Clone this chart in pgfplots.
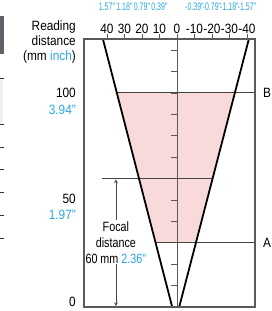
\documentclass[border=0pt]{standalone}
\usepackage{fontspec}
\setmainfont{Liberation Sans}[FakeStretch=0.88]
\newfontfamily\narrowfont{Liberation Sans}[FakeStretch=0.64]
\newfontfamily\condfont{Liberation Sans}[FakeStretch=0.80]
\usepackage{pgfplots}
\pgfplotsset{compat=1.18}
\definecolor{inchblue}{HTML}{29A8E0}
\definecolor{beampink}{HTML}{F9DADA}
\definecolor{framegray}{HTML}{5A5A5A}
\definecolor{lineg}{HTML}{444444}
\definecolor{sidegray}{HTML}{5F6368}
\newcommand{\pxfont}{\fontsize{13.5}{16}\selectfont}
\newcommand{\inch}[1]{{\narrowfont\fontsize{11}{18}\selectfont\color{inchblue}#1}}
\begin{document}
\begin{tikzpicture}[x=1bp,y=1bp]
\useasboundingbox (0,0) rectangle (272,311);
% clipped pieces of the neighbouring figure at the left edge
\fill[sidegray] (0,257) rectangle (4,295);
\fill[black!6] (0,186) rectangle (3,232);
\foreach \yy in {232,186,163,141,118,95,72} {\draw[black!80, line width=1bp] (0,\yy) -- (4,\yy);}
% axis title and y labels
\node[anchor=base east, inner sep=0pt, font=\pxfont] at (76,281) {Reading};
\node[anchor=base east, inner sep=0pt, font=\pxfont] at (76,266) {distance};
\node[anchor=base east, inner sep=0pt, font=\pxfont] at (76,251) {(mm \textcolor{inchblue}{inch})};
\node[anchor=base east, inner sep=0pt, font=\pxfont] at (76,214) {100};
\node[anchor=base east, inner sep=0pt, font=\pxfont, text=inchblue] at (76,197) {3.94"};
\node[anchor=base east, inner sep=0pt, font=\pxfont] at (76,108) {50};
\node[anchor=base east, inner sep=0pt, font=\pxfont, text=inchblue] at (76,92) {1.97"};
\node[anchor=base east, inner sep=0pt, font=\pxfont] at (76,5) {0};
\node[anchor=base west, inner sep=0pt, font=\pxfont] at (263,214) {B};
\node[anchor=base west, inner sep=0pt, font=\pxfont] at (263,64) {A};
\begin{axis}[
  at={(84bp,4bp)}, anchor=south west,
  scale only axis, width=171bp, height=268bp,
  xmin=-44.6, xmax=53.1, x dir=reverse,
  ymin=0, ymax=125.2,
  axis on top,
  axis line style={framegray, line width=1.2bp},
  xtick={-40,-30,...,40},
  xtick pos=upper, xticklabel pos=upper,
  tick align=outside, major tick length=5bp,
  tick style={framegray, line width=0.8bp},
  xticklabels={\inch{-1.57"}\\[5bp]-40,
               \inch{-1.18"}\\[5bp]-30,
               \inch{-0.79"}\\[5bp]-20,
               \inch{-0.39"}\\[5bp]-10,
               \inch{\strut}\\[5bp]0,
               \inch{0.39"}\\[5bp]10,
               \inch{0.79"}\\[5bp]20,
               \inch{1.18"}\\[5bp]30,
               \inch{1.57"}\\[5bp]40},
  xticklabel style={align=center, font=\fontsize{13.5}{18}\selectfont, inner sep=0pt, anchor=south, yshift=0bp},
  ytick=\empty,
]
% depth of field region
\addplot[fill=beampink, draw=none] coordinates {(12.2,30) (34.4,100) (-33.1,100) (-10.85,30)} -- cycle;
% centre line with ticks
\addplot[framegray, line width=0.8bp] coordinates {(0,0) (0,125.2)};
\pgfplotsinvokeforeach{10,20,...,120}{\draw[framegray, line width=0.8bp] (axis cs:0,#1) -- ++(-6bp,0bp);}
% horizontal lines
\addplot[lineg, line width=1bp] coordinates {(34.4,100) (-44.6,100)};
\addplot[lineg, line width=1bp] coordinates {(42.9,60) (-20.4,60)};
\addplot[lineg, line width=1bp] coordinates {(12.2,30) (-44.6,30)};
% beam edges
\addplot[black, line width=1.8bp] coordinates {(2.7,0) (42.3,125.2)};
\addplot[black, line width=1.8bp] coordinates {(-1.3,0) (-41.1,125.2)};
% focal distance arrow
\addplot[lineg, line width=0.7bp, <->, >=stealth] coordinates {(34.9,0.4) (34.9,59.6)};
\node[fill=white, inner sep=1bp, align=center, font=\condfont\fontsize{13.5}{16}\selectfont] at (axis cs:34.9,30.2) {Focal\\distance\\60 mm \textcolor{inchblue}{2.36"}};
\end{axis}
\end{tikzpicture}
\end{document}
